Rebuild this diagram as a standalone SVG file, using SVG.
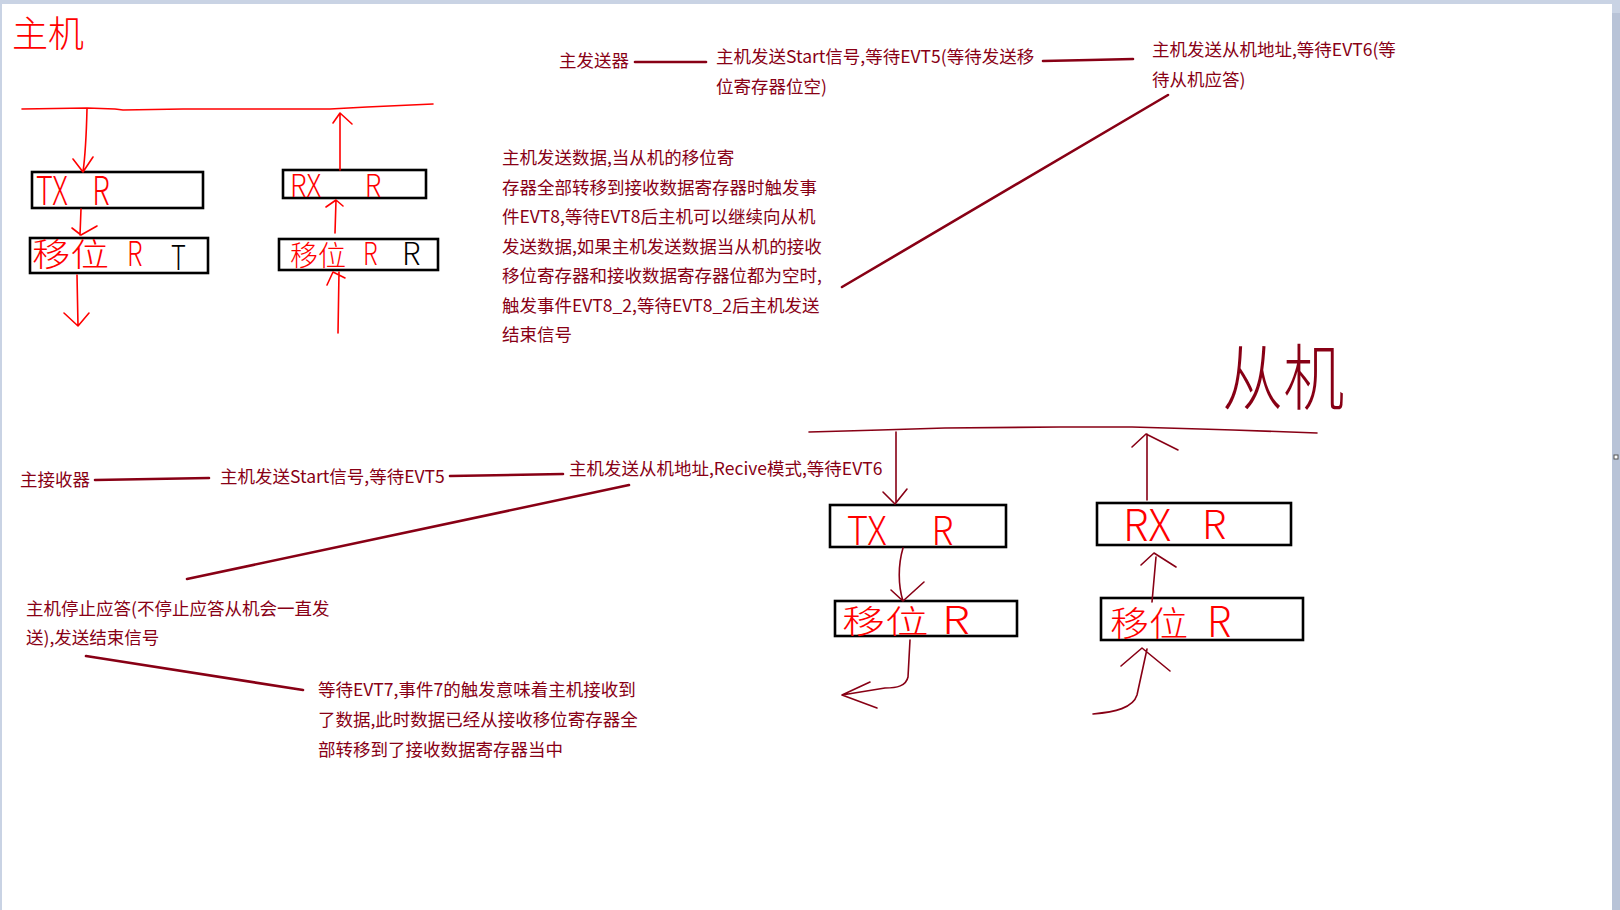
<svg xmlns="http://www.w3.org/2000/svg" width="1620" height="910" viewBox="0 0 1620 910">
<style>
.t{font-family:"Noto Sans CJK SC","Noto Sans",sans-serif;font-size:17.5px;fill:#880015}
.hw{font-family:"Noto Sans CJK SC","Noto Sans",sans-serif;font-weight:300;fill:#ff0000}
.hk{font-family:"Noto Sans CJK SC","Noto Sans",sans-serif;font-weight:300;fill:#000}
.hd{font-family:"Noto Sans CJK SC","Noto Sans",sans-serif;font-weight:300;fill:#880015}
.box{fill:#fff;stroke:#000;stroke-width:2.6}
.r{fill:none;stroke:#ff0000;stroke-width:1.6;stroke-linecap:round;stroke-linejoin:round}
.d{fill:none;stroke:#880015;stroke-width:1.6;stroke-linecap:round;stroke-linejoin:round}
.ld{fill:none;stroke:#880015;stroke-width:2.6;stroke-linecap:round}
</style>
<rect x="0" y="0" width="1620" height="910" fill="#ffffff"/>
<rect x="0" y="0" width="1620" height="4" fill="#c9d3e4"/>
<rect x="0" y="0" width="2" height="910" fill="#c9d3e4"/>
<rect x="1612" y="0" width="8" height="910" fill="#b8c3d7"/>
<rect x="1612" y="0" width="8" height="13" fill="#c9d3e4"/>
<rect x="1614" y="455" width="4" height="4" fill="#fff" stroke="#555" stroke-width="1"/>

<g id="host-title"><text class="hw" x="12" y="47" font-size="36">主机</text></g>

<g id="host-tx">
<rect class="box" x="32" y="172" width="171" height="36"/>
<text class="hw" font-size="40" transform="translate(36,205) scale(0.72,1)">TX<tspan x="78">R</tspan></text>
</g>
<g id="host-shift-tx">
<rect class="box" x="30" y="238" width="178" height="35"/>
<text class="hw" font-size="32" transform="translate(32,266) scale(1.2,1)">移位</text>
<text class="hw" font-size="34" transform="translate(127,266) scale(0.75,1)">R</text>
<text class="hk" font-size="34" transform="translate(171,270) scale(0.75,1)">T</text>
</g>
<g id="host-rx">
<rect class="box" x="283" y="170" width="143" height="28"/>
<text class="hw" font-size="32" transform="translate(290,197) scale(0.85,1)">RX<tspan x="88">R</tspan></text>
</g>
<g id="host-shift-rx">
<rect class="box" x="279" y="239" width="159" height="31"/>
<text class="hw" font-size="28" transform="translate(290,266)">移位</text>
<text class="hw" font-size="32" transform="translate(363,265) scale(0.75,1)">R</text>
<text class="hk" font-size="32" transform="translate(402,265) scale(0.95,1)">R</text>
</g>

<g id="slave-title"><text class="hd" font-size="72" transform="translate(1222,404) scale(0.85,1)">从机</text></g>

<g id="slave-tx">
<rect class="box" x="830" y="505" width="176" height="42"/>
<text class="hw" font-size="40" transform="translate(847,545) scale(0.9,1)">TX<tspan x="94">R</tspan></text>
</g>
<g id="slave-shift-tx">
<rect class="box" x="835" y="601" width="182" height="35"/>
<text class="hw" font-size="32" transform="translate(842,633) scale(1.35,1)">移位</text>
<text class="hw" font-size="38" transform="translate(942,634) scale(1.2,1)">R</text>
</g>
<g id="slave-rx">
<rect class="box" x="1097" y="503" width="194" height="42"/>
<text class="hw" font-size="44" transform="translate(1123,541) scale(0.95,1)">RX</text>
<text class="hw" font-size="40" transform="translate(1202,539)">R</text>
</g>
<g id="slave-shift-rx">
<rect class="box" x="1101" y="598" width="202" height="42"/>
<text class="hw" font-size="34" transform="translate(1110,636) scale(1.15,1)">移位</text>
<text class="hw" font-size="42" transform="translate(1207,637) scale(0.95,1)">R</text>
</g>

<g id="note-tx-label"><text class="t" x="559" y="67">主发送器</text></g>
<g id="note-tx-start"><text class="t" x="716" y="63">主机发送Start信号,等待EVT5(等待发送移</text><text class="t" x="716" y="93">位寄存器位空)</text></g>
<g id="note-tx-addr"><text class="t" x="1152" y="56">主机发送从机地址,等待EVT6(等</text><text class="t" x="1152" y="86">待从机应答)</text></g>
<g id="note-tx-data">
<text class="t" x="502" y="164">主机发送数据,当从机的移位寄</text>
<text class="t" x="502" y="193.5">存器全部转移到接收数据寄存器时触发事</text>
<text class="t" x="502" y="223">件EVT8,等待EVT8后主机可以继续向从机</text>
<text class="t" x="502" y="252.5">发送数据,如果主机发送数据当从机的接收</text>
<text class="t" x="502" y="282">移位寄存器和接收数据寄存器位都为空时,</text>
<text class="t" x="502" y="311.5">触发事件EVT8_2,等待EVT8_2后主机发送</text>
<text class="t" x="502" y="341">结束信号</text>
</g>
<g id="note-rx-label"><text class="t" x="20" y="486">主接收器</text></g>
<g id="note-rx-start"><text class="t" x="220" y="483">主机发送Start信号,等待EVT5</text></g>
<g id="note-rx-addr"><text class="t" x="569" y="475">主机发送从机地址,Recive模式,等待EVT6</text></g>
<g id="note-rx-stop"><text class="t" x="26" y="615">主机停止应答(不停止应答从机会一直发</text><text class="t" x="26" y="644">送),发送结束信号</text></g>
<g id="note-rx-evt7">
<text class="t" x="318" y="696">等待EVT7,事件7的触发意味着主机接收到</text>
<text class="t" x="318" y="726">了数据,此时数据已经从接收移位寄存器全</text>
<text class="t" x="318" y="756">部转移到了接收数据寄存器当中</text>
</g>

<g id="connectors">
<path class="r" d="M22,109 L87,108 L115,109 L123,110 L183,109 L330,109 L367,107 L433,104"/>
<path class="r" d="M87,109 Q86,150 83,172 M73,159 L83,172 L93,157"/>
<path class="r" d="M81,209 L80,235 M72,228 L81,235 L97,226"/>
<path class="r" d="M77,275 L78,326 M64,313 L78,326 L89,313"/>
<path class="r" d="M340,170 L340,113 M333,123 L340,113 L352,124"/>
<path class="r" d="M335,233 L336,200 M326,207 L336,200 L343,206"/>
<path class="r" d="M338,333 L339,272 M327,285 L333,272 L345,278"/>

<path class="d" d="M809,432 L845,431 L880,430 L945,428 L1060,427 L1132,427 L1200,429 L1233,430 L1290,432 L1317,433"/>
<path class="d" d="M896,432 L896,503 M883,492 L895,504 L907,489"/>
<path class="d" d="M903,548 C898,565 898,585 903,601 M891,590 L903,601 L924,582"/>
<path class="d" d="M910,640 L908,677 C906,686 897,688 885,688 L842,695 M870,682 L842,695 L877,708"/>
<path class="d" d="M1147,500 L1147,434 M1132,447 L1146,434 L1178,450"/>
<path class="d" d="M1152,602 L1156,557 M1141,565 L1154,553 L1176,567"/>
<path class="d" d="M1093,714 C1115,712 1133,708 1137,695 L1147,649 M1121,666 L1142,648 L1170,671"/>

<path class="ld" d="M635,62 L706,62"/>
<path class="ld" d="M1043,61 L1090,60 L1133,59"/>
<path class="ld" d="M1168,95 L842,287"/>
<path class="ld" d="M95,480 L209,478"/>
<path class="ld" d="M450,476 L563,474"/>
<path class="ld" d="M629,485 L187,579"/>
<path class="ld" d="M86,656 L303,690"/>
</g>
</svg>
